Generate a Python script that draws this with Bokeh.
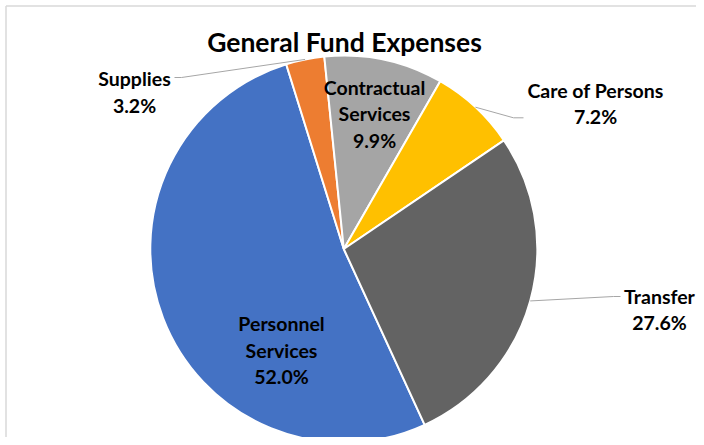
import math
from bokeh.plotting import figure
from bokeh.models import Range1d, ColumnDataSource
from bokeh.core.properties import value
from bokeh.embed import file_html
from bokeh.resources import INLINE

# ---------------- data ----------------
title_text = "General Fund Expenses"
categories = ["Personnel Services", "Supplies", "Contractual Services", "Care of Persons", "Transfer"]
shares = [52.0, 3.2, 9.9, 7.2, 27.6]
pct_labels = ["52.0%", "3.2%", "9.9%", "7.2%", "27.6%"]
name_lines = [["Personnel", "Services"], ["Supplies"], ["Contractual", "Services"],
              ["Care of Persons"], ["Transfer"]]

# ---------------- styles / layout (screen px) ----------------
colors = ["#4472C4", "#ED7D31", "#A5A5A5", "#FFC000", "#636363"]
CX, CY, R = 343.3, 248.5, 193.5
START_DEG = 155.3          # clockwise from 12 o'clock
LINE_H = 26.4
FONT = "Lato"
label_anchor = [(281, 323.3), (134, 78.3), (374, 86.7), (595, 90.0), (659, 296.0)]
leader_pts = [None, [(181, 77.0), (174, 77.0)], None,
              [(513, 117.3), (523, 117.3)], [(613, 296.0), (620, 296.0)]]

W, H = 696, 437
p = figure(width=W, height=H, x_range=Range1d(0, W), y_range=Range1d(-H, 0),
           output_backend="svg", toolbar_location=None, x_axis_type=None, y_axis_type=None,
           min_border=0, outline_line_color=None,
           background_fill_color="white", border_fill_color="white")

total = sum(shares)
starts, ends, mids = [], [], []
cum = START_DEG
for s in shares:
    a1 = cum
    a2 = cum + s / total * 360.0
    starts.append(math.radians(90 - a2))
    ends.append(math.radians(90 - a1))
    mids.append((a1 + a2) / 2)
    cum = a2

src = ColumnDataSource(dict(cat=categories, start=starts, end=ends, color=colors))
p.wedge(x=CX, y=-CY, radius=R, start_angle="start", end_angle="end", fill_color="color",
        line_color="white", line_width=2, source=src)

# leader lines
for i, pts in enumerate(leader_pts):
    if pts is None:
        continue
    th = math.radians(mids[i])
    ex = CX + R * math.sin(th)
    ey = CY - R * math.cos(th)
    xs = [ex] + [q[0] for q in pts]
    ys = [-ey] + [-q[1] for q in pts]
    p.line(xs, ys, line_color="#A6A6A6", line_width=1)

# labels
tx, ty, tt = [], [], []
for i in range(len(categories)):
    lines = name_lines[i] + [pct_labels[i]]
    x0, y0 = label_anchor[i]
    for k, ln in enumerate(lines):
        tx.append(x0)
        ty.append(-(y0 + k * LINE_H))
        tt.append(ln)
p.text(x=tx, y=ty, text=tt, text_font=value(FONT), text_font_style="bold",
       text_font_size="19.5px", text_align="center", text_baseline="alphabetic",
       text_color="black")

# title
p.text(x=[344], y=[-41.7], text=[title_text], text_font=value(FONT), text_font_style="bold",
       text_font_size="26.5px", text_align="center", text_baseline="alphabetic",
       text_color="black")

# chart area border (top and left edges visible)
p.segment(x0=[5.5, 5.5], y0=[-5.5, -5.5], x1=[W, 5.5], y1=[-5.5, -H],
          line_color="#D9D9D9", line_width=1.5)

open("out.html", "w").write(file_html(p, INLINE))
